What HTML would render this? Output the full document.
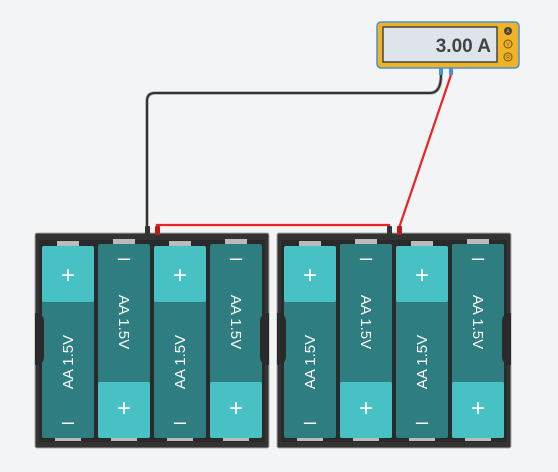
<!DOCTYPE html>
<html><head><meta charset="utf-8"><style>
body{margin:0;background:#f3f4f6;width:558px;height:472px;overflow:hidden;font-family:"Liberation Sans",sans-serif}
svg{display:block}
</style></head><body>
<svg id="s" width="558" height="472" viewBox="0 0 558 472">
<rect width="558" height="472" fill="#f3f4f6"/>
<g>
<path d="M147,228 V101 Q147,93 155,93 H430 Q441,93 441,75" fill="none" stroke="#aaa" stroke-width="3.5"/>
<path d="M147,228 V101 Q147,93 155,93 H430 Q441,93 441,75" fill="none" stroke="#333" stroke-width="2"/>
</g>
<g>
<line x1="451" y1="75" x2="399" y2="228" stroke="#e22" stroke-width="2.2"/>
</g>
<g>
<path d="M157,228 V225 H389 V228" fill="none" stroke="#e22" stroke-width="2.2"/>
</g>
<g id="packs"></g>
<g>
<rect x="377" y="22" width="142" height="46" rx="4" fill="#f0b323" stroke="#4a90d9" stroke-width="1.5"/>
<rect x="383" y="27" width="114" height="35" fill="#dde5ea" stroke="#444" stroke-width="1.5"/>
<text x="491" y="52" text-anchor="end" font-size="19" font-weight="bold" fill="#444">3.00 A</text>
<circle cx="508" cy="31" r="4" fill="#444"/>
<circle cx="508" cy="44" r="4" fill="none" stroke="#6b4f10" stroke-width="1"/>
<circle cx="508" cy="57" r="4" fill="none" stroke="#6b4f10" stroke-width="1"/>
<text x="508" y="33" text-anchor="middle" font-size="5" fill="#f0b323">A</text>
<text x="508" y="46" text-anchor="middle" font-size="5" fill="#6b4f10">V</text>
<text x="508" y="59" text-anchor="middle" font-size="5" fill="#6b4f10">R</text>
<rect x="439" y="68" width="4" height="7" fill="#4a90d9"/>
<rect x="449" y="68" width="4" height="7" fill="#4a90d9"/>
</g>
</svg>
<script>
const packX=[35,277];
const cellOrient=[1,0,1,0]; // 1 = plus on top
const NS="http://www.w3.org/2000/svg";
const g=document.getElementById('packs');
function mk(t,a,p){const e=document.createElementNS(NS,t);for(const k in a)e.setAttribute(k,a[k]);(p||g).appendChild(e);return e;}
packX.forEach((px,pi)=>{
 const pk=mk('g',{});
 
 
 mk('rect',{x:px,y:233,width:234,height:215,rx:2,fill:'#333',stroke:'#aaa','stroke-width':1},pk);
 mk('rect',{x:px+4,y:240,width:226,height:202,fill:'#2a2a2a'},pk);
 mk('rect',{x:px+110,y:226,width:5,height:9,rx:1,fill:'#333'},pk);
 mk('rect',{x:px+120,y:226,width:5,height:9,rx:1,fill:'#b81d1d'},pk);
 cellOrient.forEach((up,i)=>{
  const cx=px+7+i*56, w=52, y0=up?246:244, y1=438;
  const c=mk('g',{},pk);
  
  
  mk('rect',{x:cx+15,y:up?241:239,width:22,height:6,fill:'#bbb'},c);
  mk('rect',{x:cx+13,y:437,width:26,height:4,fill:'#bbb'},c);
  mk('rect',{x:cx,y:y0,width:w,height:y1-y0,rx:2,fill:'#2e7d80'},c);
  if(up){mk('rect',{x:cx,y:y0,width:w,height:56,rx:2,fill:'#47c1c4'},c);}
  else{mk('rect',{x:cx,y:382,width:w,height:56,rx:2,fill:'#47c1c4'},c);}
  const mx=cx+w/2;
  const plusY=up?275:408, minusY=up?423:259;
  const t1=mk('text',{x:mx,y:plusY+8,'text-anchor':'middle','font-size':24,fill:'#fff'},c);t1.textContent='+';
  const t2=mk('text',{x:mx,y:minusY+6,'text-anchor':'middle','font-size':22,fill:'#fff'},c);t2.textContent='–';
  const ly=up?362:322;
  const t3=mk('text',{x:0,y:0,'text-anchor':'middle','font-size':15,fill:'#fff',transform:`translate(${up?mx+5:mx-5},${ly}) rotate(${up?-90:90})`},c);
  t3.textContent='AA 1.5V';
 });
 mk('path',{d:`M${px},313 q9,0 9,9 v34 q0,9 -9,9 z`,fill:'#2a2a2a'},pk);
 mk('path',{d:`M${px+234},313 q-9,0 -9,9 v34 q0,9 9,9 z`,fill:'#2a2a2a'},pk);
});
</script>
</body></html>
